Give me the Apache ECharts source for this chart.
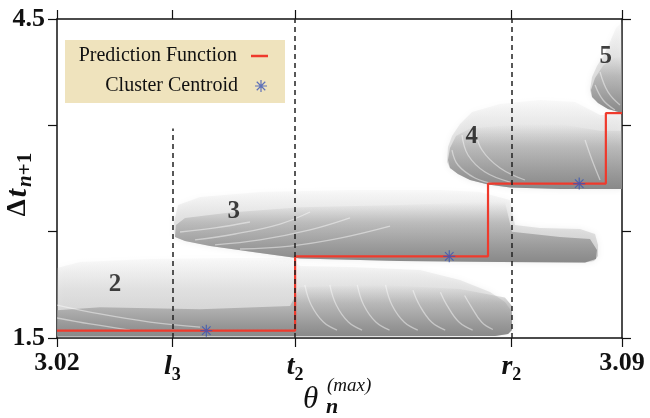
<!DOCTYPE html>
<html>
<head>
<meta charset="utf-8">
<script src="https://cdn.jsdelivr.net/npm/echarts@6/dist/echarts.min.js"></script>
<style>html,body{margin:0;padding:0;background:#fff}#c{width:650px;height:418px}</style>
</head>
<body>
<div id="c"></div>
<script>
// ---- data ----
const xMin = 3.02, xMax = 3.09, yMin = 1.5, yMax = 4.5;
const xTickValues = [3.02, 3.0343, 3.0495, 3.0763, 3.09];
const xTickLabels = ['3.02', 'l3', 't2', 'r2', '3.09'];
const yTickValues = [1.5, 2.5, 3.5, 4.5];
const yLabelValues = [1.5, 4.5];

const stepX = [3.02, 3.0495, 3.0734, 3.088, 3.09];
const stepY = [1.569, 2.268, 2.952, 3.614, 3.614];

const centroidX = [3.0385, 3.0686, 3.0847];
const centroidY = [1.569, 2.268, 2.952];

const clusterNames = ['2', '3', '4', '5'];
const clusterLabelX = [3.0272, 3.0419, 3.0714, 3.088];
const clusterLabelY = [1.998, 2.685, 3.39, 4.143];

const dashX = [3.0343, 3.0495, 3.0763];
const dashYFrom = [1.5, 1.5, 1.5];
const dashYTo = [3.47, 4.5, 4.5];

// cloud outlines (sparse envelope and dense core)
const cloud2Sparse = [[3.02,1.514],[3.02,2.158],[3.02285,2.215],[3.03152,2.243],[3.04143,2.252],[3.04887,2.252],[3.05011,2.177],[3.0563,2.168],[3.06497,2.140],[3.06993,2.045],[3.07365,1.933],[3.0755,1.839],[3.07637,1.745],[3.07637,1.575],[3.07588,1.538],[3.07427,1.519]];
const cloud2Dense = [[3.02,1.514],[3.02,1.76],[3.02533,1.79],[3.03772,1.77],[3.04887,1.80],[3.05011,1.98],[3.06002,2.0],[3.06993,1.96],[3.0755,1.88],[3.07637,1.80],[3.07637,1.575],[3.07588,1.538],[3.07427,1.519]];
const cloud3Sparse = [[3.03462,2.450],[3.0345,2.591],[3.035,2.751],[3.03772,2.826],[3.04515,2.873],[3.0563,2.892],[3.06745,2.892],[3.07241,2.873],[3.07612,2.798],[3.07674,2.563],[3.07984,2.535],[3.0848,2.525],[3.08666,2.478],[3.08703,2.375],[3.08703,2.271],[3.08653,2.224],[3.08542,2.210],[3.07489,2.215],[3.0625,2.224],[3.05011,2.248],[3.04515,2.299],[3.03896,2.365],[3.03586,2.412]];
const cloud3Dense = [[3.03462,2.450],[3.03474,2.563],[3.03586,2.629],[3.04143,2.680],[3.05011,2.730],[3.0625,2.750],[3.07241,2.780],[3.0755,2.780],[3.07637,2.50],[3.08232,2.45],[3.08604,2.43],[3.0869,2.328],[3.08678,2.243],[3.08542,2.210],[3.07489,2.215],[3.0625,2.224],[3.05011,2.248],[3.04515,2.299],[3.03896,2.365],[3.03586,2.412]];
const cloud4Sparse = [[3.06832,3.155],[3.06844,3.296],[3.06894,3.400],[3.06993,3.513],[3.07142,3.625],[3.07489,3.701],[3.07984,3.738],[3.08418,3.720],[3.08728,3.597],[3.09,3.597],[3.09,2.901],[3.08232,2.901],[3.07612,2.915],[3.0734,2.944],[3.07117,2.986],[3.06968,3.042],[3.06869,3.099]];
const cloud4Dense = [[3.06844,3.174],[3.06869,3.287],[3.06943,3.400],[3.07117,3.470],[3.07736,3.510],[3.08232,3.510],[3.08728,3.450],[3.09,3.450],[3.09,2.901],[3.08232,2.901],[3.07612,2.915],[3.0734,2.944],[3.07117,2.986],[3.06968,3.042],[3.06869,3.099]];
const cloud5Sparse = [[3.08604,3.832],[3.08629,3.955],[3.0869,4.058],[3.08777,4.162],[3.08851,4.284],[3.08926,4.415],[3.09,4.472],[3.09,3.616],[3.08826,3.654],[3.08703,3.710],[3.08629,3.767]];
const cloud5Dense = [[3.08616,3.832],[3.08666,3.945],[3.08765,4.060],[3.08889,4.130],[3.09,4.150],[3.09,3.616],[3.08826,3.654],[3.08703,3.710],[3.08629,3.767]];

// white gaps (streaks) inside the clouds
const streaks = [
  [[3.02,1.688],[3.02409,1.632],[3.02904,1.575]],
  [[3.02,1.810],[3.02533,1.726],[3.03152,1.650],[3.03772,1.603]],
  [[3.0507,2.00],[3.0515,1.81],[3.0530,1.65],[3.0547,1.575]],
  [[3.0538,2.00],[3.0546,1.81],[3.0561,1.65],[3.0578,1.575]],
  [[3.0572,2.00],[3.0580,1.81],[3.0595,1.65],[3.0612,1.575]],
  [[3.0607,2.00],[3.0615,1.81],[3.0630,1.65],[3.0647,1.575]],
  [[3.0641,1.95],[3.0649,1.81],[3.0664,1.65],[3.0681,1.575]],
  [[3.0675,1.93],[3.0683,1.81],[3.0698,1.65],[3.0715,1.575]],
  [[3.0705,1.90],[3.0712,1.81],[3.0726,1.65],[3.0740,1.58]],
  [[3.03524,2.497],[3.03958,2.535],[3.04391,2.591]],
  [[3.0371,2.422],[3.04205,2.478],[3.04763,2.572],[3.05135,2.685]],
  [[3.03958,2.375],[3.04515,2.422],[3.05135,2.516],[3.0563,2.629]],
  [[3.04267,2.337],[3.04887,2.365],[3.05506,2.440],[3.06126,2.553]],
  [[3.06894,3.268],[3.06968,3.127],[3.07179,3.005],[3.07427,2.948]],
  [[3.07018,3.409],[3.07092,3.221],[3.07303,3.061],[3.07612,2.967]],
  [[3.07179,3.456],[3.07266,3.268],[3.07489,3.099],[3.07798,2.986]],
  [[3.08542,3.362],[3.08629,3.174],[3.08728,2.986]],
  [[3.08666,3.879],[3.08765,3.738],[3.08913,3.644]],
  [[3.08728,4.002],[3.08826,3.814],[3.08975,3.691]]
];

// ---- chart ----
const cloudPolys = [cloud2Sparse, cloud3Sparse, cloud4Sparse, cloud5Sparse, cloud2Dense, cloud3Dense, cloud4Dense, cloud5Dense];
const SERIF = "'Liberation Serif','Times New Roman',serif";
const STAR = 'path://M9 0L11 0L11 20L9 20Z M0 9L20 9L20 11L0 11Z M2.2 3.6L3.6 2.2L17.8 16.4L16.4 17.8Z M16.4 2.2L17.8 3.6L3.6 17.8L2.2 16.4Z';

const chart = echarts.init(document.getElementById('c'), null, {renderer: 'canvas'});

function xLabelFmt(v) {
  const i = xTickValues.findIndex(t => Math.abs(t - v) < 1e-6);
  if (i < 0) return '';
  const s = xTickLabels[i];
  if (/^\d/.test(s)) return '{n|' + s + '}';
  return '{i|' + s[0] + '}{s|' + s.slice(1) + '}';
}

const axisLineStyle = {color: '#111', width: 1.5};
const tickStyle = {show: true, inside: false, length: 9, lineStyle: {color: '#111', width: 1.2}};

const option = {
  animation: false,
  backgroundColor: '#fff',
  grid: {left: 57, right: 28, top: 19, bottom: 80, containLabel: false, outerBoundsMode: 'none'},
  graphic: [
    {type: 'rect', left: 65, top: 40, shape: {width: 220, height: 63}, style: {fill: '#efe3bd'}, z: 3},
    {type: 'text', left: 303, top: 384, style: {text: 'θ', font: "italic 31px 'Liberation Serif', serif", fill: '#111'}, z: 5},
    {type: 'text', left: 327, top: 376, style: {text: '(max)', font: "italic 19px 'Liberation Serif', serif", fill: '#111'}, z: 5},
    {type: 'text', left: 326, top: 396, style: {text: 'n', font: "italic bold 22px 'Liberation Serif', serif", fill: '#111'}, z: 5}
  ],
  legend: [
    {data: ['Prediction Function'], right: 382, top: 46, padding: 0, align: 'right', icon: 'rect', itemWidth: 17, itemHeight: 2.5,
     selectedMode: false, z: 6, textStyle: {fontFamily: SERIF, fontSize: 20, color: '#111', padding: [0, 9, 0, 0]}},
    {data: ['Cluster Centroid'], right: 383, top: 76, padding: 0, align: 'right', icon: STAR, itemWidth: 12, itemHeight: 12,
     selectedMode: false, z: 6, textStyle: {fontFamily: SERIF, fontSize: 20, color: '#111', padding: [0, 12, 0, 0]}}
  ],
  xAxis: [
    {type: 'value', min: xMin, max: xMax, position: 'bottom',
     axisLine: {show: true, onZero: false, lineStyle: axisLineStyle},
     axisTick: Object.assign({customValues: xTickValues}, tickStyle),
     splitLine: {show: false},
     axisLabel: {customValues: xTickValues, margin: 12, formatter: xLabelFmt, showMinLabel: true, showMaxLabel: true,
       rich: {
         n: {fontFamily: SERIF, fontWeight: 'bold', fontSize: 26, color: '#111'},
         i: {fontFamily: SERIF, fontWeight: 'bold', fontStyle: 'italic', fontSize: 28, color: '#111'},
         s: {fontFamily: SERIF, fontWeight: 'bold', fontSize: 18, color: '#111', padding: [16, 0, 0, 0]}
       }}},
    {type: 'value', min: xMin, max: xMax, position: 'top',
     axisLine: {show: true, onZero: false, lineStyle: axisLineStyle},
     axisTick: Object.assign({customValues: xTickValues}, tickStyle),
     splitLine: {show: false}, axisLabel: {show: false}}
  ],
  yAxis: [
    {type: 'value', min: yMin, max: yMax, position: 'left',
     axisLine: {show: true, onZero: false, lineStyle: axisLineStyle},
     axisTick: Object.assign({customValues: yTickValues}, tickStyle),
     splitLine: {show: false},
     axisLabel: {customValues: yLabelValues, margin: 12, formatter: v => v.toFixed(1), showMinLabel: true, showMaxLabel: true,
       fontFamily: SERIF, fontWeight: 'bold', fontSize: 26, color: '#111'},
     name: '{d|Δ}{t|t}{s|n}{p|+1}', nameLocation: 'middle', nameGap: 21, nameRotate: 90, nameMoveOverlap: false,
     nameTextStyle: {padding: [0, 12, 0, 0],
       rich: {
         d: {fontFamily: SERIF, fontWeight: 'bold', fontSize: 27, color: '#111'},
         t: {fontFamily: SERIF, fontWeight: 'bold', fontStyle: 'italic', fontSize: 30, color: '#111', padding: [0, 2, 0, 2]},
         s: {fontFamily: SERIF, fontWeight: 'bold', fontStyle: 'italic', fontSize: 21, color: '#111', padding: [14, 0, 0, 0]},
         p: {fontFamily: SERIF, fontWeight: 'bold', fontSize: 21, color: '#111', padding: [14, 0, 0, 0]}
       }}},
    {type: 'value', min: yMin, max: yMax, position: 'right',
     axisLine: {show: true, onZero: false, lineStyle: axisLineStyle},
     axisTick: Object.assign({customValues: yTickValues}, tickStyle),
     splitLine: {show: false}, axisLabel: {show: false}}
  ],
  series: [
    {
      type: 'custom', name: 'clouds', silent: true, z: 1, clip: true,
      data: cloudPolys.map((p, i) => [p[0][0], p[0][1], i]),
      renderItem: function (params, api) {
        const idx = api.value(2);
        const pts = cloudPolys[idx].map(p => api.coord(p));
        const dense = idx >= 4;
        const fill = dense
          ? new echarts.graphic.LinearGradient(0, 0, 0, 1, [
              {offset: 0, color: 'rgba(160,160,160,0.0)'},
              {offset: 0.35, color: 'rgba(152,152,152,0.5)'},
              {offset: 0.75, color: 'rgba(142,142,142,0.82)'},
              {offset: 1, color: 'rgba(135,135,135,0.98)'}])
          : new echarts.graphic.LinearGradient(0, 0, 0, 1, [
              {offset: 0, color: 'rgba(200,200,200,0.08)'},
              {offset: 0.4, color: 'rgba(185,185,185,0.32)'},
              {offset: 1, color: 'rgba(165,165,165,0.5)'}]);
        return {type: 'polygon', shape: {points: pts}, style: {fill: fill, shadowBlur: dense ? 0 : 6, shadowColor: 'rgba(190,190,190,0.6)'}};
      }
    },
    {
      type: 'custom', name: 'streaks', silent: true, z: 2, clip: true,
      data: streaks.map((s, i) => [s[0][0], s[0][1], i]),
      renderItem: function (params, api) {
        const pts = streaks[api.value(2)].map(p => api.coord(p));
        return {type: 'polyline', shape: {points: pts, smooth: 0.4}, style: {fill: null, stroke: 'rgba(255,255,255,0.45)', lineWidth: 1.3}};
      }
    },
    {
      type: 'line', name: 'dashes', silent: true, data: [], z: 3,
      markLine: {silent: true, symbol: ['none', 'none'], label: {show: false},
        lineStyle: {color: '#222', width: 1.5, type: [5, 4]},
        data: dashX.map((x, i) => [{coord: [x, dashYFrom[i]]}, {coord: [x, dashYTo[i]]}])}
    },
    {
      type: 'line', name: 'Prediction Function', step: 'end', showSymbol: false, symbol: 'none', z: 4,
      lineStyle: {color: '#ef3a2c', width: 2.2}, itemStyle: {color: '#ef3a2c'},
      data: stepX.map((x, i) => [x, stepY[i]])
    },
    {
      type: 'scatter', name: 'Cluster Centroid', symbol: STAR, symbolSize: 12, z: 5,
      itemStyle: {color: '#3b55b6'},
      data: centroidX.map((x, i) => [x, centroidY[i]])
    },
    {
      type: 'scatter', name: 'cluster ids', symbolSize: 0, z: 6, silent: true,
      label: {show: true, position: 'inside', formatter: p => clusterNames[p.dataIndex],
        fontFamily: SERIF, fontWeight: 'bold', fontSize: 25, color: '#111'},
      data: clusterLabelX.map((x, i) => [x, clusterLabelY[i]])
    }
  ]
};
chart.setOption(option);
</script>
</body>
</html>
